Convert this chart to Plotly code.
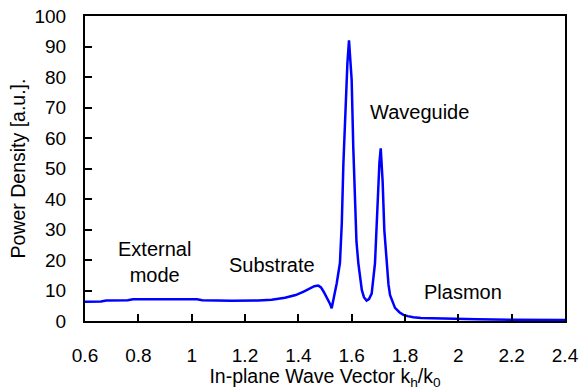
import plotly.graph_objects as go

k_vals = [0.60, 0.66, 0.68, 0.76, 0.78, 0.90, 1.02, 1.04, 1.15, 1.25, 1.30, 1.35, 1.39,
          1.42, 1.445, 1.46, 1.475, 1.485, 1.495, 1.51, 1.519, 1.525, 1.535, 1.544, 1.556,
          1.563, 1.569, 1.578, 1.584, 1.590, 1.595, 1.600, 1.606, 1.6125, 1.618, 1.625,
          1.632, 1.638, 1.646, 1.656, 1.665, 1.675, 1.6875, 1.6975, 1.704, 1.709, 1.712,
          1.716, 1.7225, 1.731, 1.738, 1.744, 1.7625, 1.78, 1.794, 1.81, 1.831, 1.86,
          1.90, 2.00, 2.07, 2.20, 2.40]
power = [6.3, 6.4, 6.7, 6.8, 7.1, 7.1, 7.1, 6.8, 6.6, 6.7, 7.0, 7.6, 8.5,
         9.6, 10.8, 11.4, 11.6, 11.0, 9.6, 7.3, 5.6, 4.2, 8.0, 12.4, 19.0,
         32.0, 51.7, 73.5, 84.5, 92.0, 86.0, 79.0, 57.0, 35.4, 26.0, 19.0,
         13.5, 10.2, 7.8, 6.7, 7.2, 9.0, 19.0, 40.8, 51.8, 56.6, 53.0,
         46.0, 29.8, 18.5, 12.0, 8.5, 4.3, 2.8, 2.0, 1.6, 1.2, 1.0,
         0.9, 0.7, 0.55, 0.4, 0.3]

labels = ["External<br>mode", "Substrate", "Waveguide", "Plasmon"]
label_x = [0.859, 1.30, 1.856, 2.019]
label_y = [19.3, 18.4, 68.6, 9.6]

x_ticks = [0.6, 0.8, 1.0, 1.2, 1.4, 1.6, 1.8, 2.0, 2.2, 2.4]
x_ticktext = ["0.6", "0.8", "1", "1.2", "1.4", "1.6", "1.8", "2", "2.2", "2.4"]
y_ticks = list(range(0, 101, 10))

FONT = "Arial, Liberation Sans, sans-serif"
FS_TICK = 19
FS_TITLE = 19.5
FS_ANN = 20

fig = go.Figure()
fig.add_trace(go.Scatter(x=k_vals, y=power, mode="lines",
                         line=dict(color="#0000FF", width=2.5), showlegend=False,
                         cliponaxis=False))

for t, xx, yy in zip(labels, label_x, label_y):
    fig.add_annotation(x=xx, y=yy, text=t, showarrow=False,
                       font=dict(family=FONT, size=FS_ANN, color="black"))

fig.update_layout(
    width=581, height=390,
    margin=dict(l=85, r=16, t=16, b=69),
    paper_bgcolor="white", plot_bgcolor="white",
    font=dict(family=FONT, size=FS_TICK, color="black"),
)
fig.update_xaxes(range=[0.6, 2.4], tickvals=x_ticks, ticktext=x_ticktext,
                 automargin=False, tickfont=dict(size=FS_TICK),
                 showgrid=False, zeroline=False,
                 showline=True, linecolor="black", linewidth=2, mirror=True,
                 ticks="inside", ticklen=7, tickwidth=1.5, tickcolor="black",
                 ticklabelstandoff=16,
                 title=dict(text="In-plane Wave Vector k<sub>h</sub>/k<sub>0</sub>",
                            font=dict(family=FONT, size=FS_TITLE), standoff=6))
fig.update_yaxes(range=[0, 100], tickvals=y_ticks,
                 automargin=False, tickfont=dict(size=FS_TICK),
                 showgrid=False, zeroline=False,
                 showline=True, linecolor="black", linewidth=2, mirror=True,
                 ticks="inside", ticklen=7, tickwidth=1.5, tickcolor="black",
                 ticklabelstandoff=13,
                 title=dict(text="Power Density [a.u.].",
                            font=dict(family=FONT, size=FS_TITLE), standoff=4))

fig.write_html("out.html")
